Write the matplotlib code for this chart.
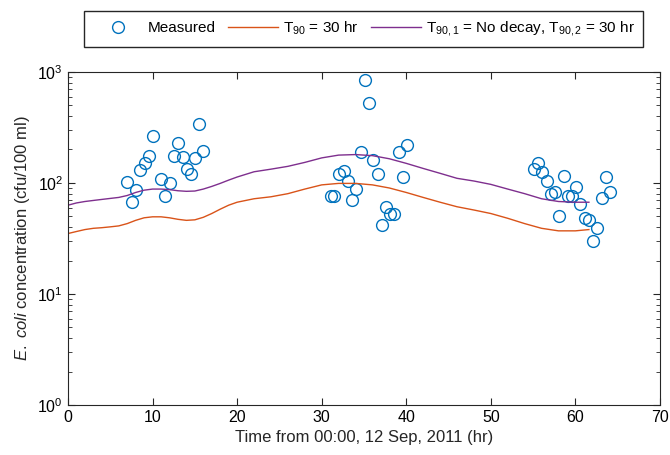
import matplotlib
matplotlib.use('Agg')
import matplotlib.pyplot as plt
import numpy as np

plt.rcParams['font.family'] = ['Liberation Sans', 'DejaVu Sans']
plt.rcParams['mathtext.fontset'] = 'custom'
plt.rcParams['mathtext.rm'] = 'Liberation Sans'
plt.rcParams['mathtext.it'] = 'Liberation Sans:italic'

# measured E. coli (hr, cfu/100 ml)
meas_t = [7.0, 7.6, 8.0, 8.5, 9.1, 9.6, 10.0, 11.0, 11.5, 12.1, 12.5, 13.0, 13.6, 14.1,
          14.5, 15.0, 15.5, 16.0,
          31.1, 31.5, 32.1, 32.6, 33.1, 33.6, 34.1, 34.6, 35.1, 35.6, 36.1, 36.6, 37.1,
          37.6, 38.1, 38.6, 39.1, 39.6, 40.1,
          55.1, 55.6, 56.1, 56.6, 57.1, 57.6, 58.1, 58.6, 59.1, 59.6, 60.1, 60.6, 61.1,
          61.6, 62.1, 62.6, 63.1, 63.6, 64.1]
meas_c = [102, 67, 86, 131, 151, 175, 265, 109, 76, 100, 175, 229, 171, 134,
          120, 168, 340, 194,
          76, 76, 121, 127, 104, 70, 88, 191, 847, 529, 161, 120, 42,
          61, 53, 53, 189, 113, 220,
          133, 152, 126, 103, 80, 82, 50, 115, 76, 76, 91, 64, 48,
          46, 30, 39, 73, 113, 82]

# model curves
model_t = [0, 1, 2, 3, 4, 5, 6, 7, 8, 9, 10, 11, 12, 13, 14, 15, 16, 17, 18, 19, 20,
           22, 24, 26, 28, 30, 32, 34, 36, 38, 40, 42, 44, 46, 48, 50, 52, 54, 56, 58,
           60, 61.6]
t90_30 = [35, 36.5, 38, 39, 39.5, 40.2, 41, 43, 46, 48.5, 49.5, 49.5, 48.5, 47, 46, 46.5,
          49, 53, 58, 63, 67,
          72, 75, 80, 88, 96, 99, 99, 96, 90, 82, 74, 67, 61, 57, 53, 48, 43, 39, 37,
          37, 38]
t90_nodecay = [63, 66, 68, 69.5, 71, 72.5, 74, 77, 82, 86, 88, 88, 87, 85, 84, 84.5,
               88, 93, 99, 106, 113,
               126, 133, 141, 153, 168, 178, 180, 176, 165, 150, 135, 122, 110, 104, 97,
               88, 80, 72, 68, 67, 67]

fig = plt.figure(figsize=(6.7, 4.55), dpi=100)
ax = fig.add_axes([0.1015, 0.110, 0.8835, 0.732])

ax.plot(meas_t, meas_c, 'o', mfc='none', mec='#0072BD', ms=8.5, mew=1.0, label='Measured')
ax.plot(model_t, t90_30, color='#D95319', lw=1.0, label='T$_{90}$ = 30 hr')
ax.plot(model_t, t90_nodecay, color='#7E2F8E', lw=1.0,
        label='T$_{90,1}$ = No decay, T$_{90,2}$ = 30 hr')

ax.set_yscale('log')
ax.set_xlim(0, 70)
ax.set_ylim(1, 1000)
ax.set_xticks(range(0, 71, 10))
ax.tick_params(which='both', direction='in', top=True, right=True, labelsize=11.5, color='#262626')
ax.tick_params(which='major', length=5)
ax.tick_params(which='minor', length=3)
for s in ax.spines.values():
    s.set_color('#262626')

ax.set_xlabel('Time from 00:00, 12 Sep, 2011 (hr)', fontsize=12, color='#262626')
ax.set_ylabel(r'$\it{E.\ coli}$ concentration (cfu/100 ml)', fontsize=12, color='#262626')

fig.legend(loc='center', bbox_to_anchor=(0.5425, 0.937), ncol=3, fontsize=11,
           frameon=True, fancybox=False, edgecolor='#262626', framealpha=1,
           handlelength=3.3, handletextpad=0.3, columnspacing=0.8, borderpad=0.55)

fig.savefig('out.png', dpi=100)
